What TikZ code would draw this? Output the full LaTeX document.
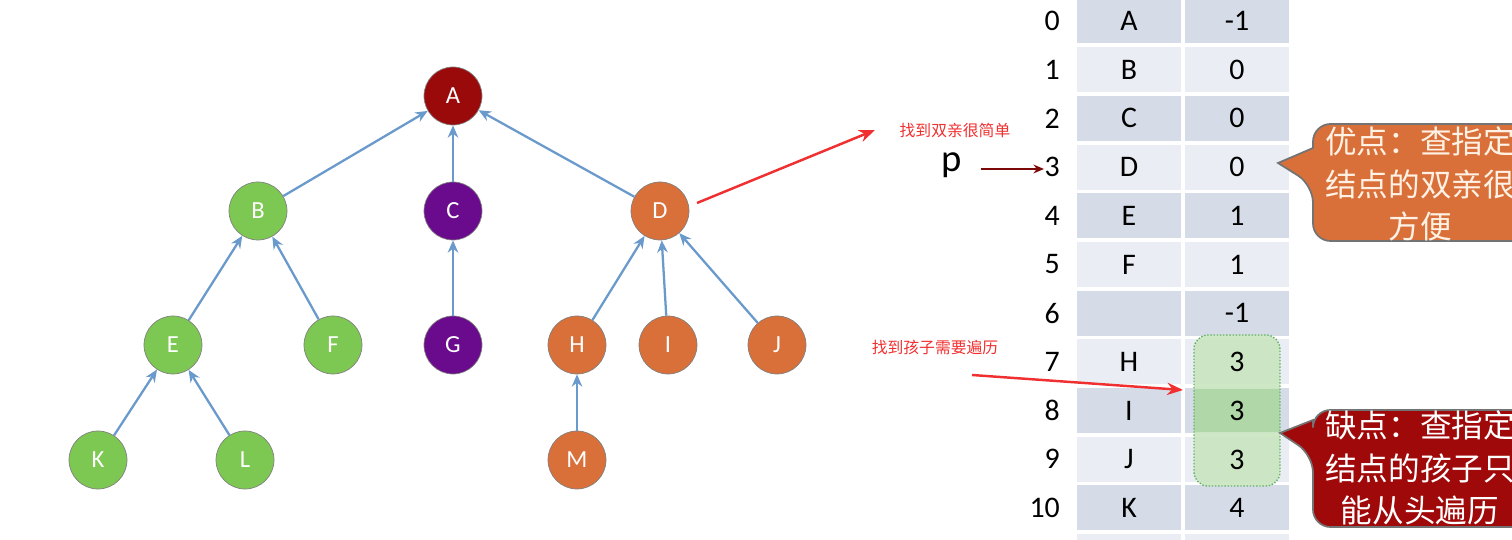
\documentclass[tikz,border=0pt]{standalone}
\usepackage{fontspec}
\setmainfont{Carlito}
\newfontfamily\cjk{Noto Sans CJK SC}
\usetikzlibrary{arrows.meta}
\definecolor{cgreen}{HTML}{7DC852}
\definecolor{cred}{HTML}{9B0A0A}
\definecolor{cpurp}{HTML}{6A0A8C}
\definecolor{corange}{HTML}{D9703A}
\definecolor{cedge}{HTML}{6A9ACB}
\definecolor{rowa}{HTML}{D5DCE8}
\definecolor{rowb}{HTML}{EAEEF4}
\definecolor{lgreen}{HTML}{C9E6C0}
\definecolor{dgreen}{HTML}{A9D4A0}
\definecolor{ared}{HTML}{F03030}
\begin{document}
\begin{tikzpicture}[x=0.02cm,y=-0.02cm,
 tn/.style={circle,minimum size=58*0.02cm,inner sep=0pt,text=white,font=\fontsize{14}{14}\selectfont,draw=black!50,line width=0.4pt},
 edge/.style={cedge,line width=1.3pt,-{Stealth[length=7pt,width=6pt]}},
 cell/.style={minimum width=104*0.02cm,minimum height=45*0.02cm,inner sep=0pt,font=\fontsize{17}{17}\selectfont},
 idx/.style={font=\fontsize{17}{17}\selectfont,anchor=east},
 val/.style={font=\fontsize{17}{17}\selectfont},
 note/.style={text=ared,font=\cjk\fontsize{9}{9}\selectfont},
 rarrow/.style={ared,line width=1.4pt,-{Stealth[length=9pt,width=7pt]}}]
\useasboundingbox (0,0) rectangle (1512,540);
\clip (0,0) rectangle (1512,540);
% tree
\node[tn,fill=cred] (A) at (453,96) {A};
\node[tn,fill=cgreen] (B) at (258,211) {B};
\node[tn,fill=cpurp] (C) at (453,211) {C};
\node[tn,fill=corange] (D) at (660,211) {D};
\node[tn,fill=cgreen] (E) at (173,345) {E};
\node[tn,fill=cgreen] (F) at (333,345) {F};
\node[tn,fill=cpurp] (G) at (453,345) {G};
\node[tn,fill=corange] (H) at (577,345) {H};
\node[tn,fill=corange] (I) at (668,345) {I};
\node[tn,fill=corange] (J) at (777,345) {J};
\node[tn,fill=cgreen] (K) at (98,460) {K};
\node[tn,fill=cgreen] (L) at (245,460) {L};
\node[tn,fill=corange] (M) at (577,460) {M};
\foreach \c/\p in {B/A,C/A,D/A,E/B,F/B,G/C,H/D,I/D,J/D,K/E,L/E,M/H}
  \draw[edge] (\c) -- (\p);
% table
\foreach \i/\a/\b in {0/A/-1,1/B/0,2/C/0,3/D/0,4/E/1,5/F/1,6//-1,7/H/,8/I/,9/J/,10/K/4,11//}{
  \pgfmathsetmacro{\yy}{21+48.7*\i}
  \pgfmathtruncatemacro{\ev}{mod(\i,2)}
  \ifnum\ev=0 \def\rc{rowa}\else\def\rc{rowb}\fi
  \node[cell,fill=\rc] (a\i) at (1129,\yy) {\a};
  \node[cell,fill=\rc] (b\i) at (1237,\yy) {\b};
  \node[idx] (n\i) at (1066,\yy) {\ifnum\i<11 \i\fi};
}
% green highlight
\fill[lgreen,opacity=0.9,rounded corners=8pt] (1194,335) rectangle (1280,486);
\fill[dgreen,opacity=0.8] (1194,389) rectangle (1280,432);
\draw[green!50!black!60,densely dotted,line width=0.8pt,rounded corners=8pt] (1194,335) rectangle (1280,486);
\node[val] (g7) at (1237,362) {3};
\node[val] (g8) at (1237,411) {3};
\node[val] (g9) at (1237,460) {3};
% callouts
\draw[fill=corange,draw=black!55,line width=1pt,rounded corners=10pt]
  (1313,124) -- (1540,124) -- (1540,241) -- (1313,241) -- (1313,185) [sharp corners]-- (1278,163) -- (1313,148) [rounded corners=10pt] -- cycle;
\node[text=white!90!orange,font=\cjk\fontsize{18}{24}\selectfont,align=center] (pros) at (1420,184) {优点：查指定\\结点的双亲很\\方便};
\draw[fill=cred!95!red,draw=black!55,line width=1pt,rounded corners=10pt]
  (1313,410) -- (1540,410) -- (1540,527) -- (1313,527) -- (1313,455) [sharp corners]-- (1280,433) -- (1313,420) [rounded corners=10pt] -- cycle;
\node[text=white,font=\cjk\fontsize{18}{24}\selectfont,align=center] (cons) at (1420,468) {缺点：查指定\\结点的孩子只\\能从头遍历};
% annotations
\node[note] (t1) at (955,130) {找到双亲很简单};
\coordinate (d1) at (697,203);
\coordinate (d2) at (875,130);
\draw[rarrow] (d1) -- (d2);
\node[note] (t2) at (935,347) {找到孩子需要遍历};
\coordinate (c1) at (972,375);
\coordinate (c2) at (1183,390);
\draw[rarrow] (c1) -- (c2);
\node[font=\fontsize{22}{22}\selectfont] (p) at (952,165) {p};
\coordinate (p2) at (1044,169);
\draw[cred!80!black,line width=1.2pt,-{Stealth[length=6pt,width=5pt]}] (981,169) -- (p2);
\end{tikzpicture}
\end{document}
